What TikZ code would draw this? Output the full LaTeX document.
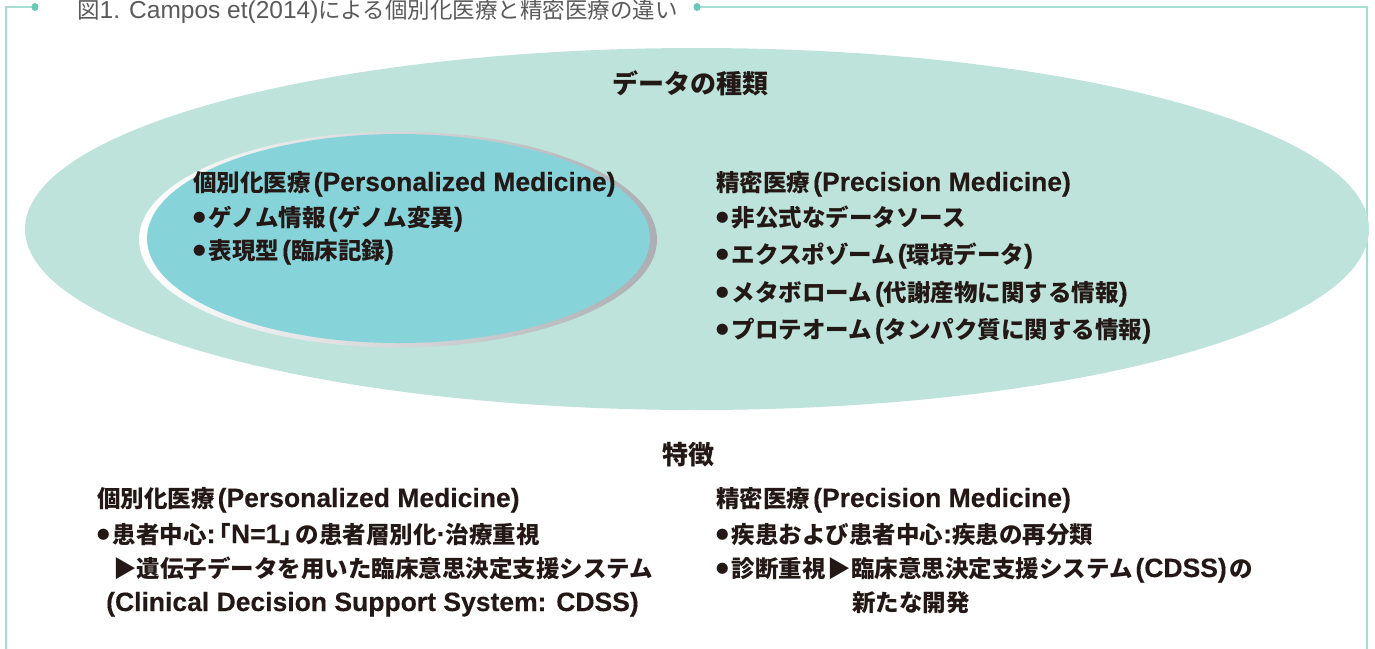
\documentclass[tikz,border=0pt]{standalone}
\usepackage{fontspec}
\setmainfont{Noto Sans CJK JP}
\newfontfamily\latinf[FakeBold=0.3]{Liberation Sans}
\newfontfamily\latinr{Liberation Sans}
\newcommand\latn[1]{{\fontsize{26.5}{30}\latinf #1}}
\newcommand\lpar{\hspace{3pt}\latn{(}}
\newcommand\rpar{\latn{)}\hspace{3pt}}
\newcommand\tlat[1]{{\fontsize{24.5}{27}\latinr #1}}
\newcommand\bul{\raisebox{4pt}{\fontsize{12.5}{13}\selectfont ●}\hspace{3pt}}
\definecolor{frameline}{HTML}{A6DDD1}
\definecolor{framedot}{HTML}{6CC8B6}
\definecolor{outerfill}{HTML}{BDE3DB}
\definecolor{innerfill}{HTML}{86D3DA}
\definecolor{rimgray}{HTML}{ABAEB2}
\definecolor{titlegray}{HTML}{5A5A5A}
\definecolor{txt}{HTML}{231815}
\begin{document}
\begin{tikzpicture}[x=1pt,y=-1pt,
  lbl/.style={anchor=base west,inner sep=0pt,text=txt,font=\fontsize{23.5}{27}\selectfont\bfseries},
  head/.style={anchor=base,inner sep=0pt,text=txt,font=\fontsize{26}{30}\selectfont\bfseries},
  ttl/.style={anchor=base west,inner sep=0pt,text=titlegray,font=\fontsize{22.5}{26}\selectfont},
  fr/.style={draw=frameline,line width=1.8pt},
  dot/.style={fill=framedot}]
\useasboundingbox (0,0) rectangle (1375,648);
% frame
\coordinate (fbl) at (6,650);
\coordinate (ftl) at (6,7);
\coordinate (fl) at (35,7);
\coordinate (fr1) at (697,7);
\coordinate (ftr) at (1367,7);
\coordinate (fbr) at (1367,650);
\draw[fr] (fbl) -- (ftl) -- (fl);
\draw[fr] (fr1) -- (ftr) -- (fbr);
\fill[dot] (fl) ellipse (3.5 and 4);
\fill[dot] (fr1) ellipse (3.5 and 4);
\node[ttl] (title) at (77,18) {図\tlat{1. Campos et(2014)}による個別化医療と精密医療の違い};
% ellipses
\fill[outerfill] (697,229) ellipse (672 and 181);
\shade[left color=white,right color=rimgray] (398,239.5) ellipse (259 and 108);
\fill[innerfill] (398.5,238.5) ellipse (251.5 and 104.5);
% upper texts
\node[head] (types) at (690,93) {データの種類};
\node[lbl] (pm1) at (193,191) {個別化医療\lpar\latn{Personalized Medicine)}};
\node[lbl] (pm2) at (193,226) {\bul ゲノム情報\lpar ゲノム変異\latn{)}};
\node[lbl] (pm3) at (193,259) {\bul 表現型\lpar 臨床記録\latn{)}};
\node[lbl] (pr1) at (716,191) {精密医療\lpar\latn{Precision Medicine)}};
\node[lbl] (pr2) at (716,226) {\bul 非公式なデータソース};
\node[lbl] (pr3) at (716,263) {\bul エクスポゾーム\lpar 環境データ\latn{)}};
\node[lbl] (pr4) at (716,301) {\bul メタボローム\lpar 代謝産物に関する情報\latn{)}};
\node[lbl] (pr5) at (716,338) {\bul プロテオーム\lpar タンパク質に関する情報\latn{)}};
% lower texts
\node[head] (feat) at (688,464) {特徴};
\node[lbl] (fp1) at (97,507) {個別化医療\lpar\latn{Personalized Medicine)}};
\node[lbl] (fp2) at (97,543) {\bul 患者中心\latn{:}\hspace{-8pt}「\latn{N=1}」\hspace{-8pt}の患者層別化\latn{·}治療重視};
\node[lbl] (fp3) at (113,577) {▶遺伝子データを用いた臨床意思決定支援システム};
\node[lbl] (fp4) at (106,611) {\latn{(Clinical Decision Support System: CDSS)}};
\node[lbl] (fr1t) at (716,507) {精密医療\lpar\latn{Precision Medicine)}};
\node[lbl] (fr2t) at (716,543) {\bul 疾患および患者中心\latn{:}疾患の再分類};
\node[lbl] (fr3t) at (716,577) {\bul 診断重視\hspace{2pt}▶臨床意思決定支援システム\lpar\latn{CDSS}\rpar の};
\node[lbl] (fr4t) at (852,611) {新たな開発};
\end{tikzpicture}
\end{document}
